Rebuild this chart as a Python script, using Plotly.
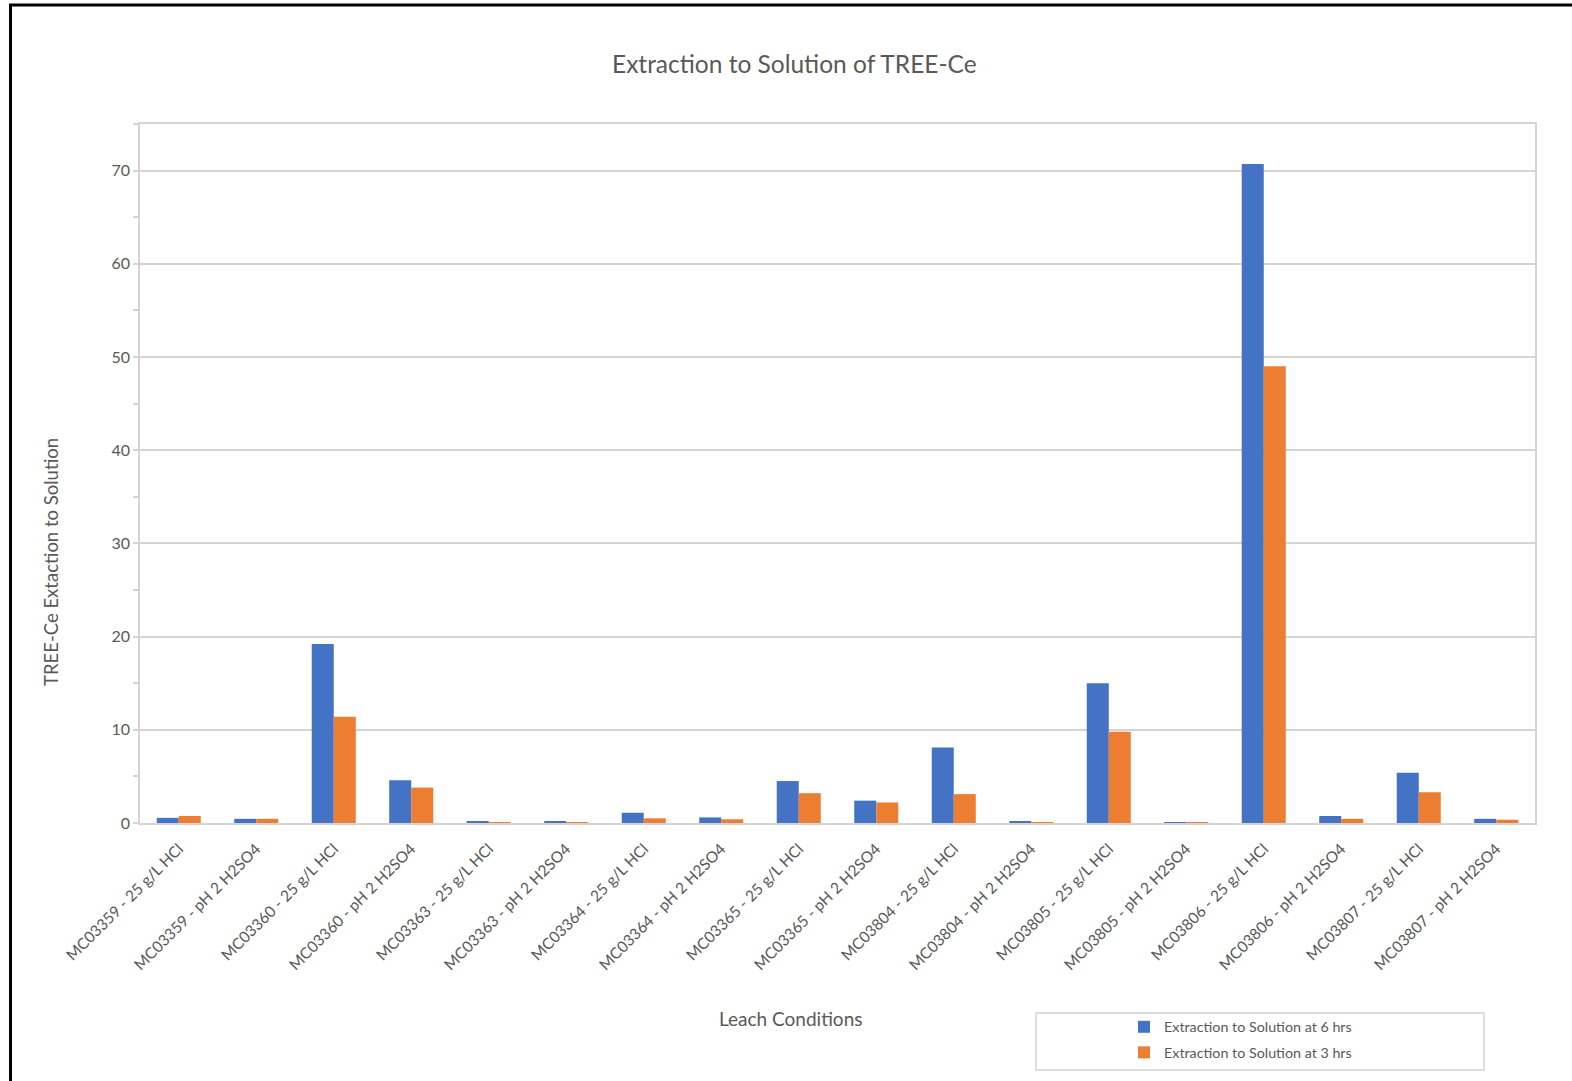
import plotly.graph_objects as go

# Leach conditions (one group of bars per condition)
categories = [
    "MC03359 - 25 g/L HCl", "MC03359 - pH 2 H2SO4",
    "MC03360 - 25 g/L HCl", "MC03360 - pH 2 H2SO4",
    "MC03363 - 25 g/L HCl", "MC03363 - pH 2 H2SO4",
    "MC03364 - 25 g/L HCl", "MC03364 - pH 2 H2SO4",
    "MC03365 - 25 g/L HCl", "MC03365 - pH 2 H2SO4",
    "MC03804 - 25 g/L HCl", "MC03804 - pH 2 H2SO4",
    "MC03805 - 25 g/L HCl", "MC03805 - pH 2 H2SO4",
    "MC03806 - 25 g/L HCl", "MC03806 - pH 2 H2SO4",
    "MC03807 - 25 g/L HCl", "MC03807 - pH 2 H2SO4",
]

# TREE-Ce extraction to solution (%)
extraction_6h = [0.55, 0.45, 19.2, 4.6, 0.2, 0.2, 1.1, 0.6, 4.5,
                 2.4, 8.1, 0.2, 15.0, 0.1, 70.7, 0.75, 5.4, 0.45]
extraction_3h = [0.75, 0.45, 11.4, 3.8, 0.1, 0.1, 0.5, 0.4, 3.2,
                 2.2, 3.1, 0.1, 9.8, 0.1, 49.0, 0.45, 3.3, 0.35]

series_names = ["Extraction to Solution at 6 hrs", "Extraction to Solution at 3 hrs"]
series_colors = ["#4472C4", "#ED7D31"]

y_ticks = [0, 10, 20, 30, 40, 50, 60, 70]

FONT = "Lato"
GREY = "#595959"
LINE = "#d4d4d4"

fig = go.Figure()
for i, (name, vals, col) in enumerate(zip(series_names, [extraction_6h, extraction_3h], series_colors)):
    fig.add_trace(go.Bar(
        x=categories, y=vals, name=name,
        marker=dict(color=col, line=dict(width=0)),
        legendgroup=f"g{i}",
    ))

W, H = 1572, 1081
L, R, T, B = 140, 37, 124, 258
pw, ph = W - L - R, H - T - B


def px_x(x):
    return (x - L) / pw


def px_y(y):
    return (H - B - y) / ph


fig.update_layout(
    width=W, height=H,
    margin=dict(l=L, r=R, t=T, b=B, autoexpand=False),
    paper_bgcolor="white", plot_bgcolor="white",
    font=dict(family=FONT, color=GREY, size=15),
    barmode="group", bargap=0.432, bargroupgap=0,
    showlegend=True,
    legend=dict(
        x=px_x(1124), y=px_y(1011), xanchor="left", yanchor="top",
        orientation="v", traceorder="grouped", tracegroupgap=4,
        font=dict(size=14.3, color=GREY, family=FONT),
        bgcolor="rgba(0,0,0,0)", itemwidth=30,
    ),
    xaxis=dict(
        type="category", tickangle=-45, showgrid=False,
        showline=True, linecolor=LINE, linewidth=1.5, mirror=True,
        ticks="", tickfont=dict(size=15.5, color=GREY, family=FONT),
        ticklabelstandoff=9, automargin=False,
    ),
    yaxis=dict(
        range=[0, 75], tickvals=y_ticks, showgrid=True, gridcolor=LINE, gridwidth=1.5,
        showline=True, linecolor=LINE, linewidth=1.5, mirror=True,
        ticks="outside", ticklen=5, tickcolor=LINE, tickwidth=1.5,
        minor=dict(dtick=5, ticks="outside", ticklen=5, tickcolor=LINE, tickwidth=1.5, showgrid=False),
        tickfont=dict(size=16, color=GREY, family=FONT),
        zeroline=False, automargin=False,
    ),
    shapes=[
        # legend frame
        dict(type="rect", xref="paper", yref="paper",
             x0=px_x(1036), x1=px_x(1484), y0=px_y(1070), y1=px_y(1013),
             line=dict(color=LINE, width=1.5), fillcolor="rgba(0,0,0,0)"),
        # outer chart frame
        dict(type="path", xref="paper", yref="paper",
             path=f"M {px_x(10.5)},{px_y(1200)} L {px_x(10.5)},{px_y(5)} L {px_x(1700)},{px_y(5)}",
             line=dict(color="black", width=3)),
    ],
    annotations=[
        dict(text="Extraction to Solution of TREE-Ce", xref="paper", yref="paper",
             x=px_x(794), y=px_y(63), xanchor="center", yanchor="middle",
             showarrow=False, font=dict(size=24.5, color=GREY, family=FONT)),
        dict(text="TREE-Ce Extaction to Solution", xref="paper", yref="paper",
             x=px_x(51), y=px_y(562), xanchor="center", yanchor="middle", textangle=-90,
             showarrow=False, font=dict(size=18.5, color=GREY, family=FONT)),
        dict(text="Leach Conditions", xref="paper", yref="paper",
             x=px_x(790), y=px_y(1018), xanchor="center", yanchor="middle",
             showarrow=False, font=dict(size=19, color=GREY, family=FONT)),
    ],
)

fig.write_html("out.html")
